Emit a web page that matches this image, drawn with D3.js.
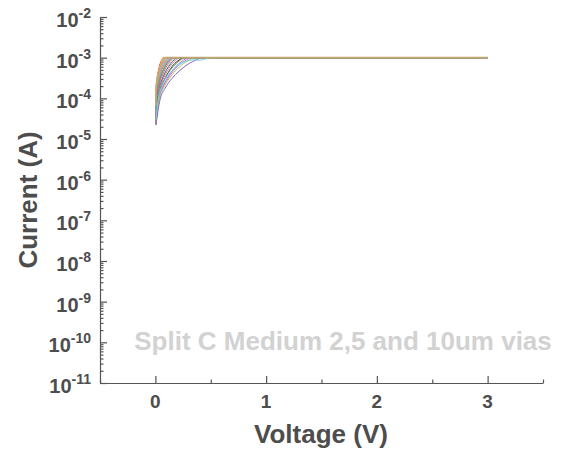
<!DOCTYPE html>
<html>
<head>
<meta charset="utf-8">
<script src="https://cdn.jsdelivr.net/npm/d3@7"></script>
<style>
  html, body { margin: 0; padding: 0; background: #fff; }
  svg { display: block; font-family: "Liberation Sans", Arial, sans-serif; }
</style>
</head>
<body>
<svg id="chart" width="563" height="458"></svg>
<script>
// I–V sweeps of the vias; each sweep hits the 1 mA compliance and stays there up to 3 V.
const curveVoltages = [
  [0.005, 0.007, 0.014, 0.025, 0.035, 0.049, 0.060, 0.070, 3.0],
  [0.005, 0.008, 0.016, 0.028, 0.040, 0.056, 0.068, 0.080, 3.0],
  [0.005, 0.009, 0.018, 0.032, 0.045, 0.063, 0.077, 0.090, 3.0],
  [0.005, 0.010, 0.020, 0.035, 0.050, 0.070, 0.085, 0.100, 3.0],
  [0.005, 0.011, 0.022, 0.039, 0.055, 0.077, 0.094, 0.110, 3.0],
  [0.005, 0.012, 0.024, 0.042, 0.060, 0.084, 0.102, 0.120, 3.0],
  [0.005, 0.013, 0.026, 0.046, 0.065, 0.091, 0.110, 0.130, 3.0],
  [0.005, 0.014, 0.028, 0.049, 0.070, 0.098, 0.119, 0.140, 3.0],
  [0.005, 0.015, 0.030, 0.053, 0.075, 0.105, 0.128, 0.150, 3.0],
  [0.005, 0.016, 0.032, 0.056, 0.080, 0.112, 0.136, 0.160, 3.0],
  [0.005, 0.017, 0.034, 0.060, 0.085, 0.119, 0.145, 0.170, 3.0],
  [0.005, 0.019, 0.038, 0.067, 0.095, 0.133, 0.162, 0.190, 3.0],
  [0.005, 0.020, 0.040, 0.070, 0.100, 0.140, 0.170, 0.200, 3.0],
  [0.005, 0.022, 0.044, 0.077, 0.110, 0.154, 0.187, 0.220, 3.0],
  [0.005, 0.025, 0.050, 0.088, 0.125, 0.175, 0.213, 0.250, 3.0],
  [0.005, 0.027, 0.054, 0.095, 0.135, 0.189, 0.230, 0.270, 3.0],
  [0.005, 0.030, 0.060, 0.105, 0.150, 0.210, 0.255, 0.300, 3.0],
  [0.005, 0.033, 0.066, 0.116, 0.165, 0.231, 0.280, 0.330, 3.0],
  [0.005, 0.036, 0.072, 0.126, 0.180, 0.252, 0.306, 0.360, 3.0],
  [0.005, 0.043, 0.086, 0.150, 0.215, 0.300, 0.365, 0.430, 3.0],
  [0.005, 0.030, 0.060, 0.100, 0.150, 0.200, 0.250, 0.300, 0.350, 0.400, 0.450, 0.500, 3.0],
  [0.005, 0.009, 0.018, 0.032, 0.045, 0.063, 0.077, 0.090, 3.0]
];
const curveCurrents = [
  [7.9e-5, 2.09e-4, 3.09e-4, 4.57e-4, 6.03e-4, 7.94e-4, 9.12e-4, 1e-3, 1e-3],
  [6.3e-5, 1.82e-4, 2.82e-4, 4.27e-4, 5.75e-4, 7.76e-4, 9.12e-4, 1e-3, 1e-3],
  [7.5e-5, 2.0e-4, 3.0e-4, 4.5e-4, 5.9e-4, 7.9e-4, 9.1e-4, 1e-3, 1e-3],
  [5.0e-5, 1.55e-4, 2.51e-4, 3.98e-4, 5.50e-4, 7.59e-4, 8.91e-4, 1e-3, 1e-3],
  [6.0e-5, 1.78e-4, 2.78e-4, 4.2e-4, 5.7e-4, 7.7e-4, 9.0e-4, 1e-3, 1e-3],
  [4.0e-5, 1.35e-4, 2.29e-4, 3.72e-4, 5.25e-4, 7.41e-4, 8.91e-4, 1e-3, 1e-3],
  [4.8e-5, 1.5e-4, 2.45e-4, 3.9e-4, 5.4e-4, 7.5e-4, 8.9e-4, 1e-3, 1e-3],
  [3.2e-5, 1.17e-4, 2.04e-4, 3.39e-4, 5.01e-4, 7.24e-4, 8.91e-4, 1e-3, 1e-3],
  [3.8e-5, 1.3e-4, 2.25e-4, 3.65e-4, 5.2e-4, 7.4e-4, 8.9e-4, 1e-3, 1e-3],
  [5.2e-5, 1.6e-4, 2.55e-4, 4.0e-4, 5.5e-4, 7.6e-4, 8.9e-4, 1e-3, 1e-3],
  [3.3e-5, 1.2e-4, 2.1e-4, 3.45e-4, 5.05e-4, 7.25e-4, 8.9e-4, 1e-3, 1e-3],
  [2.5e-5, 1.02e-4, 1.82e-4, 3.16e-4, 4.79e-4, 7.24e-4, 8.71e-4, 1e-3, 1e-3],
  [3.0e-5, 1.15e-4, 2.0e-4, 3.35e-4, 4.95e-4, 7.2e-4, 8.8e-4, 1e-3, 1e-3],
  [2.6e-5, 1.05e-4, 1.85e-4, 3.2e-4, 4.8e-4, 7.2e-4, 8.7e-4, 1e-3, 1e-3],
  [2.4e-5, 1.0e-4, 1.8e-4, 3.1e-4, 4.75e-4, 7.2e-4, 8.7e-4, 1e-3, 1e-3],
  [3.1e-5, 1.15e-4, 2.02e-4, 3.38e-4, 5.0e-4, 7.2e-4, 8.9e-4, 1e-3, 1e-3],
  [2.2e-5, 9.5e-5, 1.74e-4, 3.09e-4, 4.68e-4, 7.08e-4, 8.71e-4, 1e-3, 1e-3],
  [2.5e-5, 1.0e-4, 1.8e-4, 3.15e-4, 4.8e-4, 7.2e-4, 8.7e-4, 1e-3, 1e-3],
  [2.3e-5, 9.6e-5, 1.75e-4, 3.1e-4, 4.7e-4, 7.1e-4, 8.7e-4, 1e-3, 1e-3],
  [2.2e-5, 9.5e-5, 1.74e-4, 3.09e-4, 4.68e-4, 7.08e-4, 8.71e-4, 1e-3, 1e-3],
  [3.0e-5, 1.1e-4, 2.0e-4, 3.3e-4, 4.8e-4, 6.4e-4, 7.6e-4, 8.5e-4, 8.9e-4, 8.6e-4, 9.3e-4, 1e-3, 1e-3],
  [6.5e-5, 1.85e-4, 2.85e-4, 4.3e-4, 5.8e-4, 7.8e-4, 9.1e-4, 1e-3, 1e-3]
];
const curveColors = [
  "#e8524a", "#e8d84a", "#f0a040", "#9cd86a", "#e889c8", "#6a8ae8",
  "#b8b04a", "#909090", "#d060d0", "#40b0a0", "#e06060", "#b0e060",
  "#5060b0", "#f080a0", "#303030", "#60a060", "#a070e0", "#d070c0",
  "#a8c860", "#9060c0", "#70d8e8", "#c0a870"
];
const decadeExponents = [-11, -10, -9, -8, -7, -6, -5, -4, -3, -2];
const voltageTicks = [0, 1, 2, 3];
const voltageMinorTicks = [-0.5, 0.5, 1.5, 2.5, 3.5];
const noteText = "Split C Medium 2,5 and 10um vias";

const svg = d3.select("#chart");
const ink = "#4d4d4d";

const x = d3.scaleLinear().domain([-0.5, 3.5]).range([100, 543]);
const y = d3.scaleLog().domain([1e-11, 1e-2]).range([383, 17]);

// Y axis: major ticks at decades, minor ticks 2..9 within each decade, all pointing inward
const majors = decadeExponents.map(e => Math.pow(10, e));
const minors = [];
decadeExponents.slice(0, -1).forEach(e => {
  for (let m = 2; m <= 9; m++) minors.push(m * Math.pow(10, e));
});

const yAxisG = svg.append("g").attr("transform", "translate(100,0)");
yAxisG.call(d3.axisLeft(y).tickValues(majors).tickSize(-7).tickSizeOuter(0).tickFormat(() => ""));
yAxisG.append("g").call(d3.axisLeft(y).tickValues(minors).tickSize(-3.5).tickSizeOuter(0).tickFormat(() => ""))
  .select(".domain").remove();

const xAxisG = svg.append("g").attr("transform", "translate(0,383)");
xAxisG.call(d3.axisBottom(x).tickValues(voltageTicks).tickSize(-7).tickSizeOuter(0).tickFormat(() => ""));
xAxisG.append("g").call(d3.axisBottom(x).tickValues(voltageMinorTicks).tickSize(-3.5).tickSizeOuter(0).tickFormat(() => ""))
  .select(".domain").remove();

svg.selectAll(".domain, .tick line").attr("stroke", "#555").attr("stroke-width", 1.2);

// Y tick labels with superscript exponents
decadeExponents.forEach(e => {
  const t = svg.append("text")
    .attr("x", 91).attr("y", y(Math.pow(10, e)) + 10)
    .attr("text-anchor", "end").attr("fill", ink)
    .attr("font-weight", "bold").attr("font-size", 20);
  t.append("tspan").text("10");
  t.append("tspan").attr("dy", -9).attr("font-size", 14).text(String(e));
});

// X tick labels
voltageTicks.forEach(v => {
  svg.append("text")
    .attr("x", x(v)).attr("y", 408)
    .attr("text-anchor", "middle").attr("fill", ink)
    .attr("font-weight", "bold").attr("font-size", 19)
    .text(v);
});

// Axis titles
svg.append("text")
  .attr("x", 321).attr("y", 443)
  .attr("text-anchor", "middle").attr("fill", ink)
  .attr("font-weight", "bold").attr("font-size", 26)
  .text("Voltage (V)");
svg.append("text")
  .attr("transform", "translate(37,200) rotate(-90)")
  .attr("text-anchor", "middle").attr("fill", ink)
  .attr("font-weight", "bold").attr("font-size", 26)
  .text("Current (A)");

// Annotation
svg.append("text")
  .attr("x", 343).attr("y", 350)
  .attr("text-anchor", "middle").attr("fill", "#d2d2d2")
  .attr("font-weight", "bold").attr("font-size", 26)
  .text(noteText);

// I–V curves
const line = d3.line()
  .x(d => x(d[0]))
  .y(d => y(d[1]))
  .curve(d3.curveMonotoneX);

curveVoltages.forEach((vs, i) => {
  const pts = vs.map((v, j) => [v, curveCurrents[i][j]]);
  svg.append("path")
    .datum(pts)
    .attr("d", line)
    .attr("fill", "none")
    .attr("stroke", curveColors[i])
    .attr("stroke-width", i === curveVoltages.length - 1 ? 1.6 : 1);
});
</script>
</body>
</html>
